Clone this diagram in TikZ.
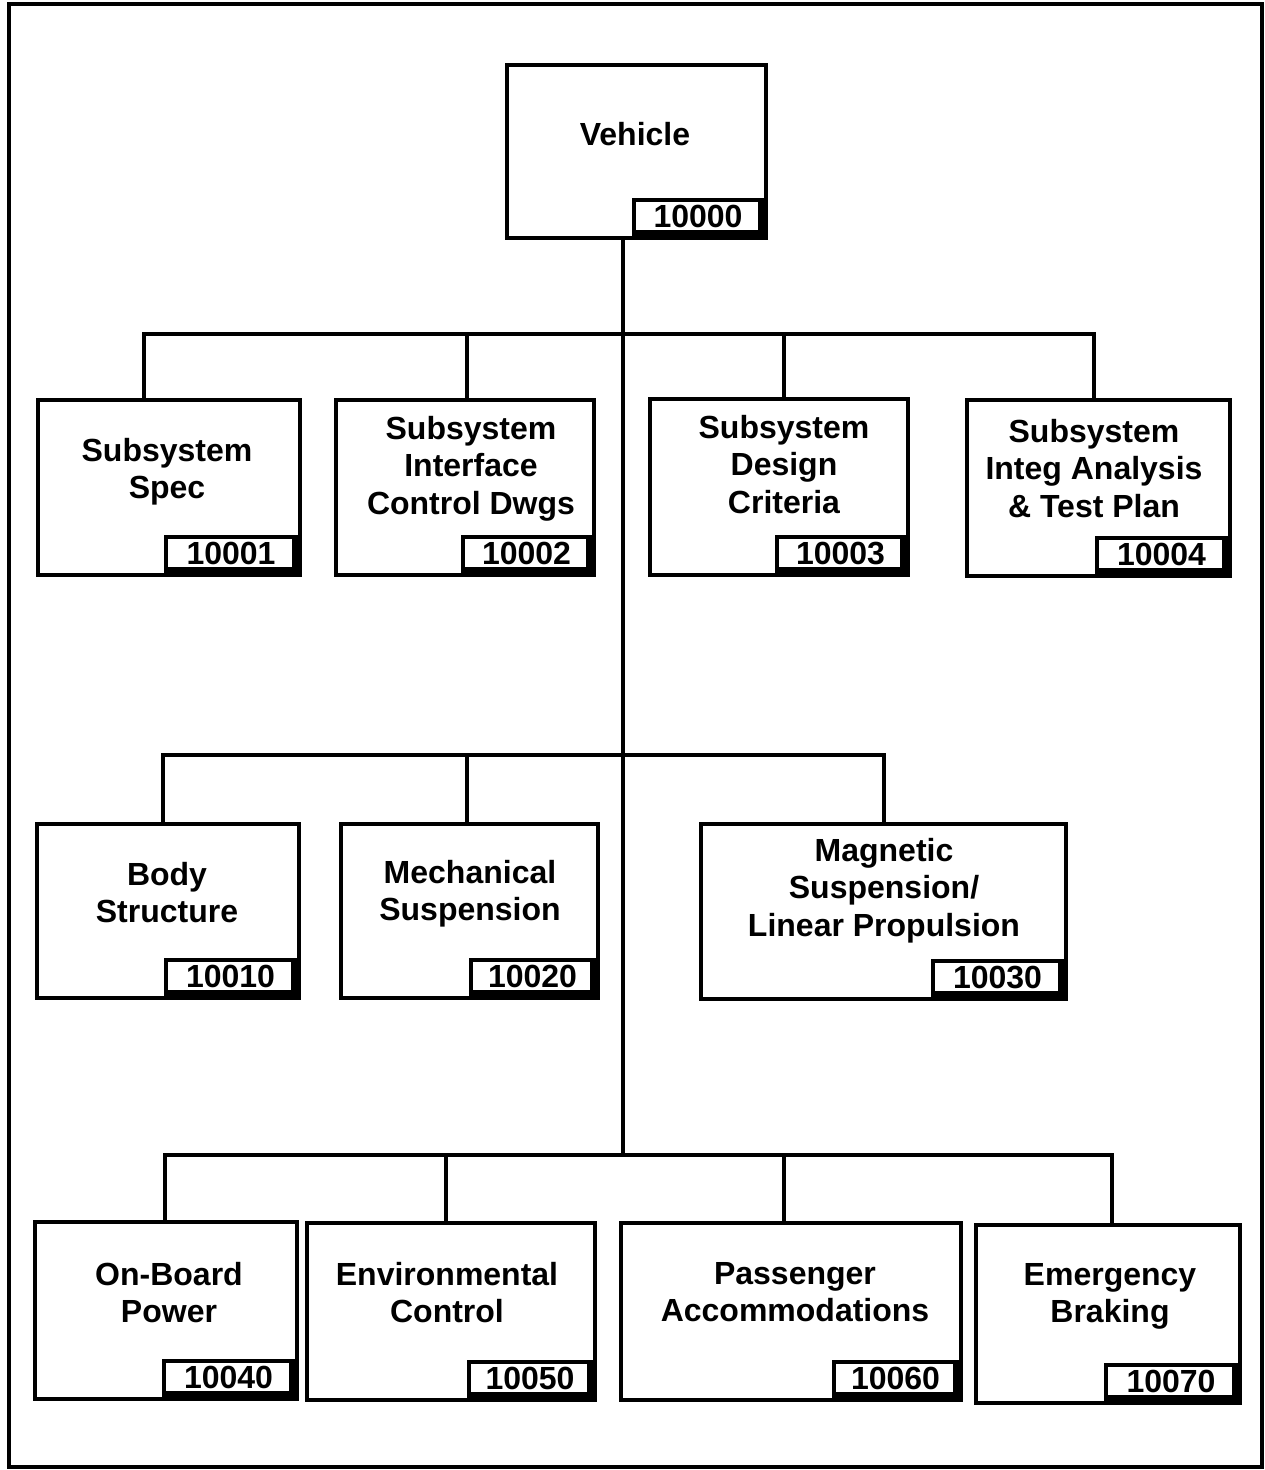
\documentclass[tikz,border=0pt]{standalone}
\usepackage{fontspec}
\setmainfont{Liberation Sans}
\usetikzlibrary{calc}

\tikzset{
  wbsbox/.style={draw, line width=4pt, rectangle, inner sep=0pt, outer sep=0pt},
  numbox/.style={draw, line width=3.5pt, rectangle, inner sep=0pt, outer sep=0pt, minimum height=38pt},
  numtext/.style={inner sep=0pt, outer sep=0pt, font=\fontsize{32}{37.5}\selectfont\bfseries},
  lbl/.style={align=center, inner sep=0pt, outer sep=0pt, font=\fontsize{32}{37.5}\selectfont\bfseries},
  wire/.style={line width=4pt},
  frame/.style={line width=4.5pt}
}

% item box with its number tag in the lower right corner
% #1 name, #2 left, #3 top, #4 right, #5 bottom, #6 left edge of tag, #7 number
\newcommand{\wbsitem}[7]{%
  \node[wbsbox, minimum width={(#4-#2)*1pt}, minimum height={(#5-#3)*1pt}]
    (#1) at ({(#2+#4)/2},{(#3+#5)/2}) {};
  \node[numbox, anchor=south east, minimum width={(#4-#6)*1pt}]
    (#1-n) at (#1.south east) {};
  \fill ($(#1-n.north east)+(-8,0)$) rectangle ($(#1-n.south east)+(2,2)$);
  \fill ($(#1-n.south west)+(0,-8)$) rectangle ($(#1-n.south east)+(2,2)$);
  \node[numtext, anchor=base] (#1-t) at ($(#1-n.south)+(-2,-11)$) {#7};
}

\begin{document}
\begin{tikzpicture}[x=1pt, y=-1pt]
\useasboundingbox (0,0) rectangle (1265,1470);
\fill[white] (0,0) rectangle (1265,1470);

% outer frame
\draw[frame] (9,4) rectangle (1262,1467);

% boxes
\wbsitem{veh}{507}{65}{766}{238}{634}{10000}

\wbsitem{spec}{38}{400}{300}{575}{166}{10001}
\wbsitem{icd}{336}{400}{594}{575}{463}{10002}
\wbsitem{crit}{650}{399}{908}{575}{777}{10003}
\wbsitem{integ}{967}{400}{1230}{576}{1097}{10004}

\wbsitem{body}{37}{824}{299}{998}{166}{10010}
\wbsitem{mech}{341}{824}{598}{998}{471}{10020}
\wbsitem{mag}{701}{824}{1066}{999}{933}{10030}

\wbsitem{power}{35}{1222}{297}{1399}{164}{10040}
\wbsitem{env}{307}{1223}{595}{1400}{469}{10050}
\wbsitem{pass}{621}{1223}{961}{1400}{834}{10060}
\wbsitem{brake}{976}{1225}{1240}{1403}{1106}{10070}

% labels (anchored at the baseline of the last line)
\node[lbl, anchor=base] (veh-l) at (635,145) {Vehicle};
\node[lbl, anchor=base] (spec-l) at (167,498.5) {Subsystem\\Spec};
\node[lbl, anchor=base] (icd-l) at (471,514) {Subsystem\\Interface\\Control Dwgs};
\node[lbl, anchor=base] (crit-l) at (784,513) {Subsystem\\Design\\Criteria};
\node[lbl, anchor=base] (integ-l) at (1094,517) {Subsystem\\Integ Analysis\\\& Test Plan};
\node[lbl, anchor=base] (body-l) at (167,922.5) {Body\\Structure};
\node[lbl, anchor=base] (mech-l) at (470,920.5) {Mechanical\\Suspension};
\node[lbl, anchor=base] (mag-l) at (884,936) {Magnetic\\Suspension/\\Linear Propulsion};
\node[lbl, anchor=base] (power-l) at (169,1322.5) {On-Board\\Power};
\node[lbl, anchor=base] (env-l) at (447,1322.5) {Environmental\\Control};
\node[lbl, anchor=base] (pass-l) at (795,1321.5) {Passenger\\Accommodations};
\node[lbl, anchor=base] (brake-l) at (1110,1322.5) {Emergency\\Braking};

% trunk and branch points
\coordinate (j1) at (623,334);
\coordinate (j2) at (623,755);
\coordinate (j3) at (623,1155);
\draw[wire] (j3 |- veh.south) -- (j3);

% first level
\draw[wire] ([xshift=-25]spec.north) |- (j1);
\draw[wire] ([xshift=2]icd.north) |- (j1);
\draw[wire] ([xshift=5]crit.north) |- (j1);
\draw[wire] ([xshift=-4.5]integ.north) |- (j1);

% second level
\draw[wire] ([xshift=-5]body.north) |- (j2);
\draw[wire] ([xshift=-2.5]mech.north) |- (j2);
\draw[wire] ([xshift=0.5]mag.north) |- (j2);

% third level
\draw[wire] ([xshift=-1]power.north) |- (j3);
\draw[wire] ([xshift=-5]env.north) |- (j3);
\draw[wire] ([xshift=-7]pass.north) |- (j3);
\draw[wire] ([xshift=4]brake.north) |- (j3);
\end{tikzpicture}
\end{document}
